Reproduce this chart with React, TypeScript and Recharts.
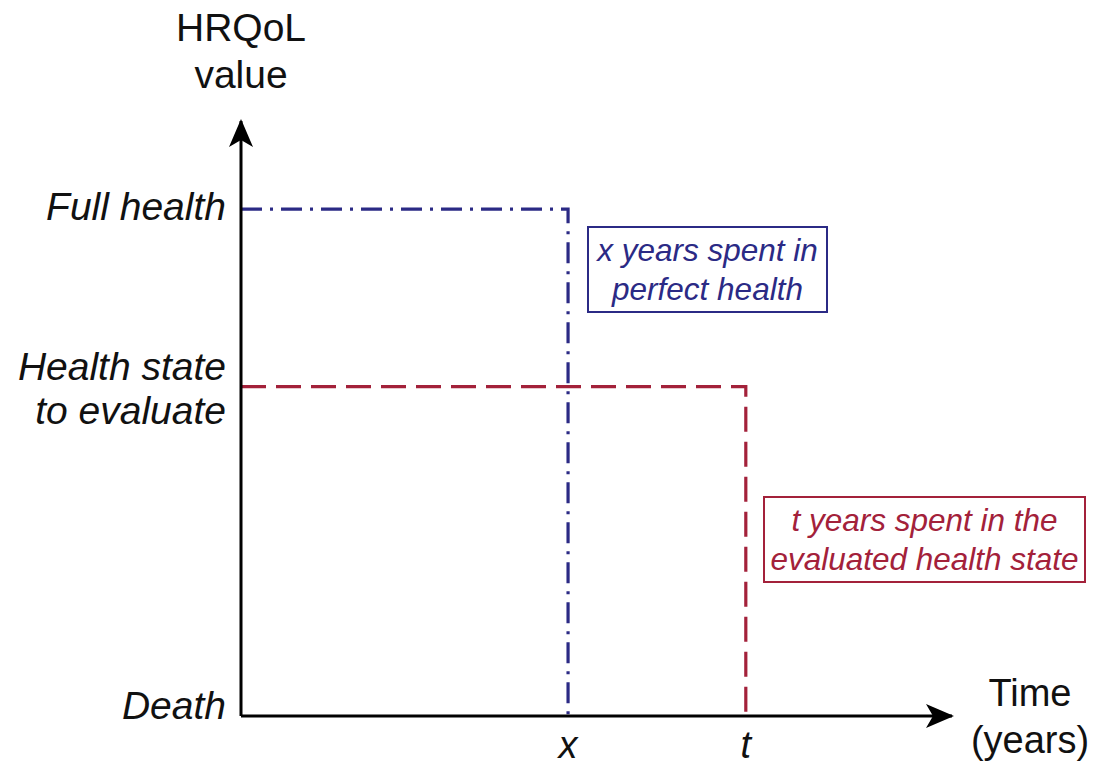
import React from 'react';
import { LineChart, Line, XAxis, YAxis } from 'recharts';

// time axis (arbitrary units, 0-100) and HRQoL axis (0 = death, 1 = full health)
const timeTicks = [46, 71];
const timeLabels = ['x', 't'];
const levelTicks = [0, 0.65, 1];
const levelLabels = ['Death', 'Health state\nto evaluate', 'Full health'];

const perfectTime = [0, 46, 46];
const perfectValue = [1, 1, 0];
const stateTime = [0, 71, 71];
const stateValue = [0.65, 0.65, 0];

const BLUE = '#2b2a85';
const RED = '#a3213a';
const FONT = '"Liberation Sans", Arial, sans-serif';

const perfectData = perfectTime.map((t, i) => ({ time: t, hrqol: perfectValue[i] }));
const stateData = stateTime.map((t, i) => ({ time: t, hrqol: stateValue[i] }));

const LevelTick = (props: any) => {
  const { x, y, payload } = props;
  const idx = levelTicks.indexOf(payload.value);
  const lines = levelLabels[idx].split('\n');
  // small nudges so labels sit where the original put them
  const shift = payload.value === 0 ? -8 : lines.length > 1 ? 4 : 0;
  const start = -((lines.length - 1) * 44) / 2;
  return (
    <text x={x} y={y + shift} textAnchor="end" fontFamily={FONT} fontStyle="italic" fontSize={39} fill="#111">
      {lines.map((l, i) => (
        <tspan key={i} x={x} dy={i === 0 ? start + 11 : 44}>
          {l}
        </tspan>
      ))}
    </text>
  );
};

const TimeTick = (props: any) => {
  const { x, y, payload } = props;
  const idx = timeTicks.indexOf(payload.value);
  return (
    <text x={x} y={y} dy={34} textAnchor="middle" fontFamily={FONT} fontStyle="italic" fontSize={38} fill="#111">
      {timeLabels[idx]}
    </text>
  );
};

const boxStyle: React.CSSProperties = {
  position: 'absolute',
  boxSizing: 'border-box',
  borderWidth: 2,
  borderStyle: 'solid',
  fontFamily: FONT,
  fontStyle: 'italic',
  fontSize: 31.5,
  lineHeight: '39px',
  textAlign: 'center',
  background: '#fff',
  paddingTop: 3,
  whiteSpace: 'nowrap',
};

const labelStyle: React.CSSProperties = {
  position: 'absolute',
  fontFamily: FONT,
  fontSize: 38,
  lineHeight: '47px',
  textAlign: 'center',
  color: '#111',
};

export default function App() {
  return (
    <div style={{ position: 'absolute', left: 0, top: 0, width: 1095, height: 766, background: '#fff' }}>
      <LineChart width={1095} height={766} margin={{ top: 121, right: 143, left: 41, bottom: 0 }}>
        <defs>
          <marker id="arrowHead" markerUnits="userSpaceOnUse" markerWidth={28} markerHeight={24} refX={26} refY={12} orient="auto-start-reverse">
            <path d="M0,0 L28,12 L0,24 L7,12 Z" fill="#000" />
          </marker>
        </defs>
        <XAxis
          type="number"
          dataKey="time"
          domain={[0, 100]}
          ticks={timeTicks}
          tick={<TimeTick />}
          tickLine={false}
          height={50}
          axisLine={{ stroke: '#000', strokeWidth: 3, markerEnd: 'url(#arrowHead)' }}
        />
        <YAxis
          type="number"
          dataKey="hrqol"
          domain={[0, 1.174]}
          ticks={levelTicks}
          tick={<LevelTick />}
          tickLine={false}
          tickMargin={9}
          width={200}
          axisLine={{ stroke: '#000', strokeWidth: 3, markerStart: 'url(#arrowHead)' }}
        />
        <Line
          data={perfectData}
          dataKey="hrqol"
          type="linear"
          stroke={BLUE}
          strokeWidth={3.2}
          strokeDasharray="21 8 3 8"
          dot={false}
          isAnimationActive={false}
        />
        <Line
          data={stateData}
          dataKey="hrqol"
          type="linear"
          stroke={RED}
          strokeWidth={3.2}
          strokeDasharray="25 10"
          dot={false}
          isAnimationActive={false}
        />
      </LineChart>

      <div style={{ ...labelStyle, fontSize: 39, left: 141, top: 4, width: 200 }}>
        HRQoL
        <br />
        value
      </div>
      <div style={{ ...labelStyle, left: 960, top: 670, width: 140 }}>
        Time
        <br />
        (years)
      </div>

      <div style={{ ...boxStyle, left: 587, top: 226, width: 241, height: 87, borderColor: BLUE, color: BLUE }}>
        x years spent in
        <br />
        perfect health
      </div>
      <div style={{ ...boxStyle, left: 763, top: 496, width: 323, height: 87, borderColor: RED, color: RED }}>
        t years spent in the
        <br />
        evaluated health state
      </div>
    </div>
  );
}
